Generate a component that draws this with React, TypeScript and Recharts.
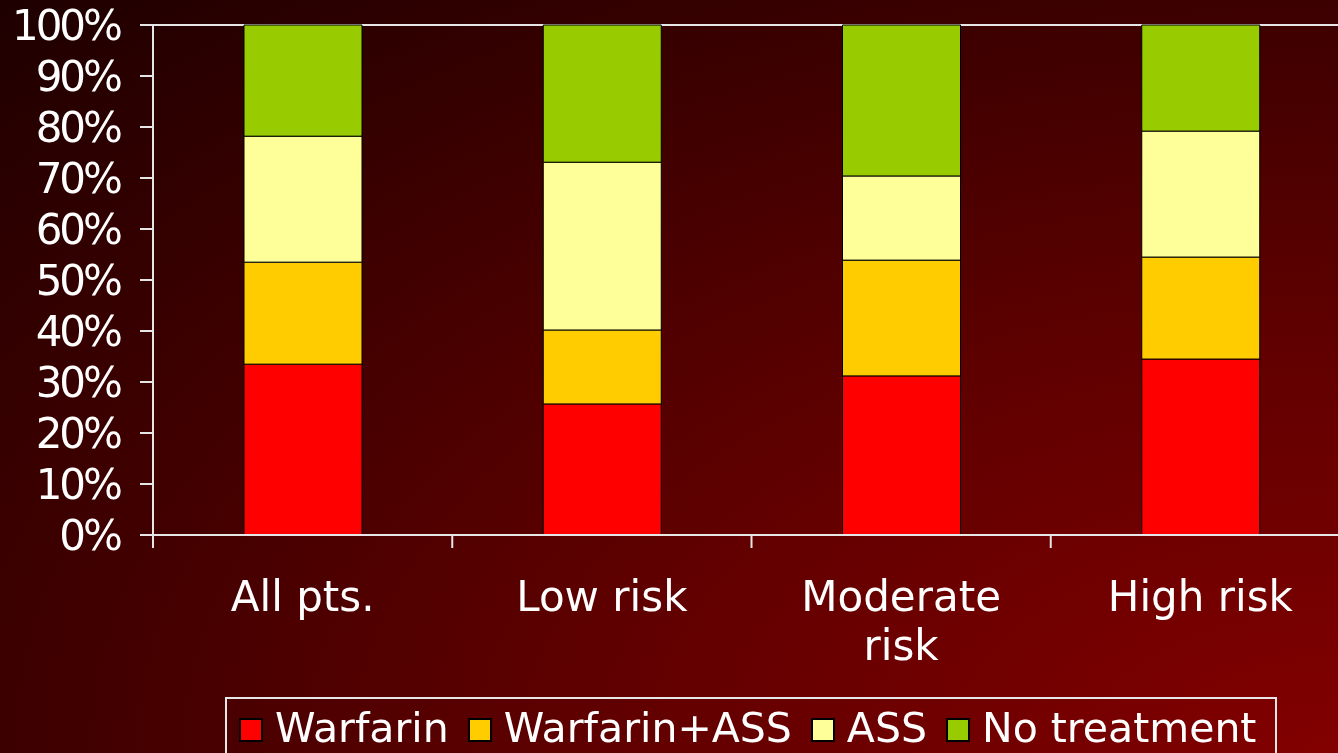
import { BarChart, Bar, XAxis, YAxis, CartesianGrid, Legend } from 'recharts';

const categories = ['All pts.', 'Low risk', 'Moderate risk', 'High risk'];
// label lines as they appear under each bar
const categoryLines = [['All pts.'], ['Low risk'], ['Moderate', 'risk'], ['High risk']];

const warfarin = [33.5, 25.7, 31.2, 34.5];
const warfarinAss = [20.0, 14.5, 22.7, 20.0];
const ass = [24.7, 32.9, 16.5, 24.7];
const noTreatment = [21.8, 26.9, 29.6, 20.8];

const yTicks = [0, 10, 20, 30, 40, 50, 60, 70, 80, 90, 100];

const seriesNames = ['Warfarin', 'Warfarin+ASS', 'ASS', 'No treatment'];
const seriesKeys = ['warfarin', 'warfarinAss', 'ass', 'noTreatment'];
const seriesColors = ['#ff0000', '#ffcc00', '#ffff99', '#99cc00'];

const data = categories.map((name, i) => ({
  name,
  lines: categoryLines[i],
  warfarin: warfarin[i],
  warfarinAss: warfarinAss[i],
  ass: ass[i],
  noTreatment: noTreatment[i],
}));

const CHART_W = 1360;
const CHART_H = 753;
const MARGIN = { top: 25, right: 10, left: 0, bottom: 0 };
const Y_AXIS_W = 153;
const X_AXIS_H = 218;
const BAND = (CHART_W - MARGIN.left - MARGIN.right - Y_AXIS_W) / categories.length;
const AXIS_COLOR = '#e6e6e6';
const FONT = '"DejaVu Sans", Verdana, sans-serif';

function XTick(props: any) {
  const { x, y, payload } = props;
  const row = data.find(d => d.name === payload.value);
  const lines = row ? row.lines : [payload.value];
  const left = x - BAND / 2;
  return (
    <g>
      <line x1={left} y1={y} x2={left} y2={y + 13} stroke={AXIS_COLOR} strokeWidth={2} />
      <text x={x} y={y + 46} textAnchor="middle" fill="#fff" fontSize={42} fontFamily={FONT}>
        {lines.map((l: string, i: number) => (
          <tspan key={i} x={x} dy={i === 0 ? '0.72em' : 49}>
            {l}
          </tspan>
        ))}
      </text>
    </g>
  );
}

function LegendBox() {
  return (
    <div
      style={{
        border: `2px solid ${AXIS_COLOR}`,
        width: 1052,
        height: 70,
        boxSizing: 'border-box',
        display: 'flex',
        alignItems: 'flex-start',
        paddingLeft: 12,
        paddingTop: 7,
        fontFamily: FONT,
        fontSize: 41,
        color: '#fff',
        lineHeight: '44px',
        whiteSpace: 'nowrap',
      }}
    >
      {seriesNames.map((n, i) => (
        <div key={n} style={{ display: 'flex', alignItems: 'center', marginRight: 19 }}>
          <span
            style={{
              display: 'inline-block',
              width: 20,
              height: 20,
              background: seriesColors[i],
              border: '2px solid #000',
              marginRight: 12,
              marginTop: 4,
            }}
          />
          <span>{n}</span>
        </div>
      ))}
    </div>
  );
}

export default function App() {
  return (
    <div
      style={{
        position: 'fixed',
        left: 0,
        top: 0,
        width: 1338,
        height: 753,
        overflow: 'hidden',
        background:
          'radial-gradient(ellipse farthest-corner at 100% 100%, #820000 0%, #620000 37%, #3c0000 71%, #1e0000 100%)',
      }}
    >
      <BarChart width={CHART_W} height={CHART_H} data={data} margin={MARGIN} barSize={118}>
        <CartesianGrid
          vertical={false}
          stroke={AXIS_COLOR}
          strokeWidth={2}
          horizontalCoordinatesGenerator={({ offset }: any) => [offset.top]}
        />
        <XAxis
          dataKey="name"
          height={X_AXIS_H}
          axisLine={{ stroke: AXIS_COLOR, strokeWidth: 2 }}
          tickLine={false}
          tickSize={0}
          tickMargin={0}
          tick={<XTick />}
          interval={0}
        />
        <YAxis
          width={Y_AXIS_W}
          domain={[0, 100]}
          ticks={yTicks}
          tickFormatter={(v: number) => `${v}%`}
          tickSize={13}
          tickMargin={20}
          axisLine={{ stroke: AXIS_COLOR, strokeWidth: 2 }}
          tickLine={{ stroke: AXIS_COLOR, strokeWidth: 2 }}
          tick={{ fill: '#fff', fontSize: 42, fontFamily: FONT, letterSpacing: -3 }}
          interval={0}
        />
        <Legend
          layout="horizontal"
          align="center"
          verticalAlign="middle"
          wrapperStyle={{ left: 225, top: 697, width: 1052 }}
          content={() => <LegendBox />}
        />
        {seriesKeys.map((k, i) => (
          <Bar
            key={k}
            dataKey={k}
            name={seriesNames[i]}
            stackId="a"
            fill={seriesColors[i]}
            stroke="#000"
            strokeWidth={1}
            isAnimationActive={false}
          />
        ))}
      </BarChart>
    </div>
  );
}
